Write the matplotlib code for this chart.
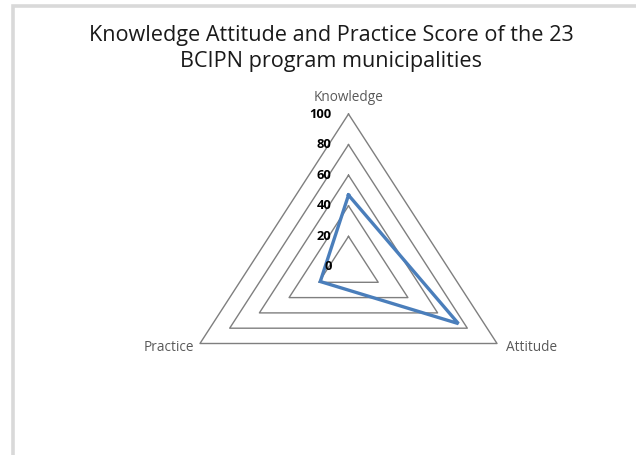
import numpy as np
import matplotlib
matplotlib.use("Agg")
import matplotlib.pyplot as plt
from matplotlib.patches import Rectangle

# ---- data ----
categories = ["Knowledge", "Attitude", "Practice"]
scores = [47, 74, 19]
grid_levels = [20, 40, 60, 80, 100]
tick_labels = ["0", "20", "40", "60", "80", "100"]
tick_values = [0, 20, 40, 60, 80, 100]
title_lines = ["Knowledge Attitude and Practice Score of the 23",
               "BCIPN program municipalities"]

W, H = 636, 455
fig = plt.figure(figsize=(W / 100, H / 100), dpi=100)
fig.patch.set_facecolor("white")

# light gray frame (top and left visible)
fig.patches.append(Rectangle((12.8 / W, -0.1), 1.2, (1 - 6.5 / H) + 0.1,
                             transform=fig.transFigure, fill=False,
                             edgecolor="#d9d9d9", linewidth=2.6, zorder=0))

ax = fig.add_axes([0, 0, 1, 1])
ax.set_axis_off()
cx, cy = 348.5, 267.0
sx, sy = 1.715, 1.53
ax.set_xlim(-cx / sx, (W - cx) / sx)
ax.set_ylim(-(H - cy) / sy, cy / sy)

angles = np.deg2rad([90, -30, 210])

def pts(vals):
    v = np.asarray(vals, dtype=float)
    x = v * np.cos(angles)
    y = v * np.sin(angles)
    return np.append(x, x[0]), np.append(y, y[0])

for lv in grid_levels:
    gx, gy = pts([lv] * 3)
    ax.plot(gx, gy, color="#7f7f7f", lw=1.0, zorder=1)

dx, dy = pts(scores)
ax.plot(dx, dy, color="#4a7ebb", lw=2.4, solid_joinstyle="miter", zorder=3)

font = "Open Sans"
for v, t in zip(tick_values, tick_labels):
    ax.annotate(t, (0, v), xytext=(-12.2, 0), textcoords="offset points",
                ha="right", va="center", fontsize=9.3, fontweight="bold",
                color="black", family=font, zorder=4)

label_offsets = {"Knowledge": ((0, 12.2), "center", "center"),
                 "Attitude": ((6.5, -3), "left", "center"),
                 "Practice": ((-4.3, -3), "right", "center")}
for cat, a in zip(categories, angles):
    off, ha, va = label_offsets[cat]
    ax.annotate(cat, (100 * np.cos(a), 100 * np.sin(a)), xytext=off,
                textcoords="offset points", ha=ha, va=va, fontsize=9.8,
                color="#595959", family=font)

for line, ypx in zip(title_lines, [35, 62]):
    fig.text(331.5 / W, 1 - ypx / H, line, ha="center", va="center",
             fontsize=15.6, color="#1a1a1a", family=font)

fig.savefig("out.png", dpi=100)
